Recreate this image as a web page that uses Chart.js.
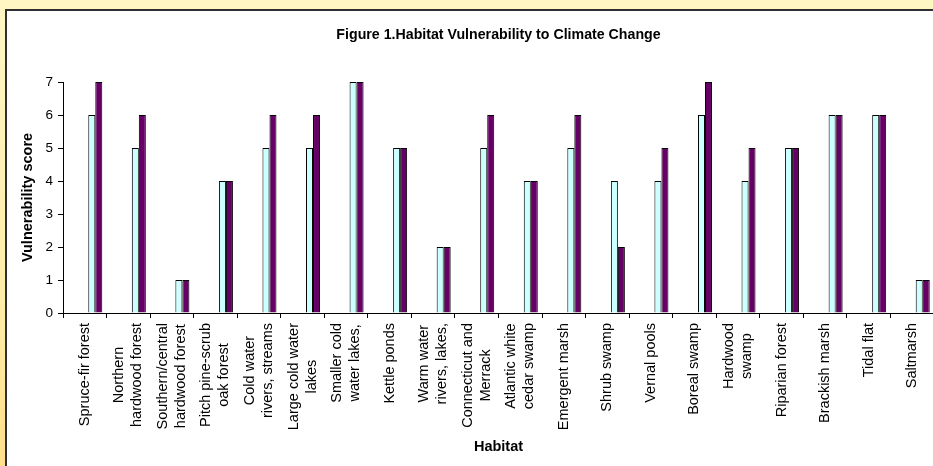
<!DOCTYPE html>
<html>
<head>
<meta charset="utf-8">
<title>Habitat Vulnerability to Climate Change</title>
<script src="https://cdn.jsdelivr.net/npm/chart.js@4.4.1/dist/chart.umd.min.js"></script>
<style>
  html, body {
    margin: 0;
    padding: 0;
    width: 933px;
    height: 466px;
    overflow: hidden;
    background: linear-gradient(to bottom, #fff6c4 0%, #ffeeaa 60%, #ffdf8a 100%);
  }
  #frame {
    position: absolute;
    left: 5px;
    top: 9px;
    width: 1000px;
    height: 500px;
    background: #ffffff;
    border-top: 2px solid #2f2f2f;
    border-left: 2px solid #2f2f2f;
  }
  #chart {
    position: absolute;
    left: 7px;
    top: 11px;
  }
</style>
</head>
<body>
<div id="frame"></div>
<canvas id="chart" width="940" height="455"></canvas>
<script>
  // habitats, one array of text lines per category
  const categories = [
    ["Spruce-fir forest"],
    ["Northern", "hardwood forest"],
    ["Southern/central", "hardwood forest"],
    ["Pitch pine-scrub", "oak forest"],
    ["Cold water", "rivers, streams"],
    ["Large cold water", "lakes"],
    ["Smaller cold", "water lakes,"],
    ["Kettle ponds"],
    ["Warm water", "rivers, lakes,"],
    ["Connecticut and", "Merrack"],
    ["Atlantic white", "cedar swamp"],
    ["Emergent marsh"],
    ["Shrub swamp"],
    ["Vernal pools"],
    ["Boreal swamp"],
    ["Hardwood", "swamp"],
    ["Riparian forest"],
    ["Brackish marsh"],
    ["Tidal flat"],
    ["Saltmarsh"]
  ];

  const scoreLight = [6, 5, 1, 4, 5, 5, 7, 5, 2, 5, 4, 5, 4, 4, 6, 4, 5, 6, 6, 1];
  const scoreDark = [7, 6, 1, 4, 6, 6, 7, 5, 2, 6, 4, 6, 2, 5, 7, 5, 5, 6, 6, 1];

  // the source sheet has three empty series in front of the two drawn ones
  const emptySeries = categories.map(() => null);

  const yTicks = [0, 1, 2, 3, 4, 5, 6, 7];

  const FONT = "'Liberation Sans', Arial, sans-serif";

  // category labels: lines centred on each other, block starting under the axis
  const habitatLabels = {
    id: "habitatLabels",
    afterDraw(chart) {
      const scale = chart.scales.x;
      const ctx = chart.ctx;
      const pitch = 18;
      ctx.save();
      ctx.font = "14.5px " + FONT;
      ctx.fillStyle = "#000000";
      ctx.textAlign = "center";
      ctx.textBaseline = "middle";
      const top = scale.top + 10;
      categories.forEach((lines, i) => {
        const x = scale.getPixelForTick(i);
        const widest = Math.max(...lines.map((l) => ctx.measureText(l).width));
        lines.forEach((line, j) => {
          ctx.save();
          ctx.translate(x + (j - (lines.length - 1) / 2) * pitch, top + widest / 2);
          ctx.rotate(-Math.PI / 2);
          ctx.fillText(line, 0, 0);
          ctx.restore();
        });
      });
      ctx.restore();
    }
  };

  const blankSet = () => ({
    label: "",
    data: emptySeries,
    backgroundColor: "transparent",
    borderWidth: 0
  });

  new Chart(document.getElementById("chart"), {
    type: "bar",
    data: {
      labels: categories.map((c) => c.join(" ")),
      datasets: [
        blankSet(),
        blankSet(),
        blankSet(),
        {
          label: "Series 4",
          data: scoreLight,
          backgroundColor: "#ccffff",
          borderColor: "#000000",
          borderWidth: 1
        },
        {
          label: "Series 5",
          data: scoreDark,
          backgroundColor: "#660066",
          borderColor: "#000000",
          borderWidth: 1
        }
      ]
    },
    options: {
      responsive: false,
      animation: false,
      devicePixelRatio: 1,
      categoryPercentage: 0.804,
      barPercentage: 1,
      layout: {
        padding: { left: 8.3, right: 13, top: 0, bottom: 6.3 }
      },
      plugins: {
        legend: { display: false },
        tooltip: { enabled: false },
        title: {
          display: true,
          fullSize: false,
          text: "Figure 1.Habitat Vulnerability to Climate Change",
          color: "#000000",
          font: { family: FONT, size: 14.2, weight: "bold", lineHeight: 1.2 },
          padding: { top: 15.5, bottom: 38.5 }
        }
      },
      scales: {
        x: {
          offset: true,
          afterFit: (scale) => { scale.height = 146.7; },
          grid: {
            offset: true,
            drawOnChartArea: false,
            drawTicks: true,
            tickLength: 5,
            color: "#000000"
          },
          border: { color: "#000000", width: 1 },
          ticks: { display: false },
          title: {
            display: true,
            text: "Habitat",
            color: "#000000",
            font: { family: FONT, size: 14.5, weight: "bold", lineHeight: 1.2 },
            padding: { top: 4, bottom: 4 }
          }
        },
        y: {
          min: yTicks[0],
          max: yTicks[yTicks.length - 1],
          afterFit: (scale) => { scale.width = 47.7; },
          afterBuildTicks: (scale) => {
            scale.ticks = yTicks.map((v) => ({ value: v }));
          },
          grid: {
            drawOnChartArea: false,
            drawTicks: true,
            tickLength: 5,
            color: "#000000"
          },
          border: { color: "#000000", width: 1 },
          ticks: {
            color: "#000000",
            padding: 5,
            font: { family: FONT, size: 13.5 }
          },
          title: {
            display: true,
            text: "Vulnerability score",
            color: "#000000",
            font: { family: FONT, size: 14.5, weight: "bold", lineHeight: 1.2 },
            padding: { top: 4, bottom: 4 }
          }
        }
      }
    },
    plugins: [habitatLabels]
  });
</script>
</body>
</html>
